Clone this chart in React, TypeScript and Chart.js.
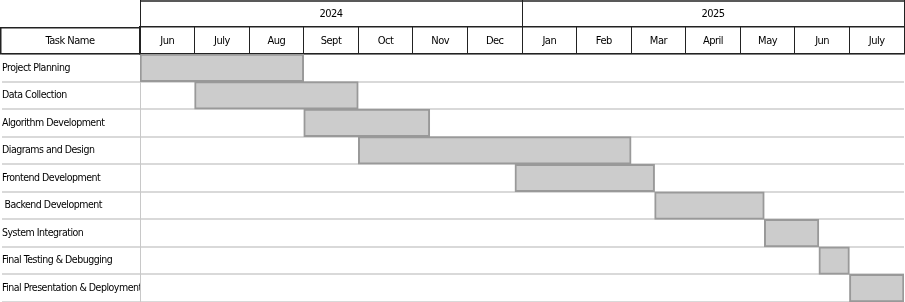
import React, { useEffect, useRef } from 'react';
import { Chart, registerables } from 'chart.js';

Chart.register(...registerables);

const tasks = [
  'Project Planning',
  'Data Collection',
  'Algorithm Development',
  'Diagrams and Design',
  'Frontend Development',
  ' Backend Development',
  'System Integration',
  'Final Testing & Debugging',
  'Final Presentation & Deployment',
];
// months counted from the start of June 2024
const startMonths = [0, 1, 3, 4, 6.87, 9.43, 11.44, 12.44, 13];
const endMonths = [3, 4, 5.31, 9, 9.43, 11.44, 12.44, 13, 14];
const monthLabels = ['Jun', 'July', 'Aug', 'Sept', 'Oct', 'Nov', 'Dec', 'Jan', 'Feb', 'Mar', 'April', 'May', 'Jun', 'July'];
const yearLabels = ['2024', '2025'];
const headerLabel = 'Task Name';

const FONT = "'Liberation Sans Narrow', 'Arial Narrow', 'DejaVu Sans Condensed', sans-serif";
const HEADER_H = 27;
const LABEL_W = 138;

const headerPlugin = {
  id: 'headerCells',
  beforeDraw(chart: any) {
    (chart.ctx as any).letterSpacing = '-0.5px';
  },
  afterDraw(chart: any) {
    const { ctx } = chart;
    const yr = chart.scales.xYear;
    const mo = chart.scales.xMonth;
    const ya = chart.scales.y;
    ctx.save();
    ctx.strokeStyle = '#222';
    ctx.lineWidth = 1.5;
    ctx.beginPath();
    ctx.moveTo(yr.left, yr.top + 1);
    ctx.lineTo(yr.right, yr.top + 1);
    ctx.stroke();
    ctx.strokeRect(0.75, mo.top + 0.75, ya.right - 1, mo.bottom - mo.top - 1);
    ctx.fillStyle = '#000';
    ctx.font = `11px ${FONT}`;
    ctx.textAlign = 'center';
    ctx.textBaseline = 'middle';
    ctx.fillText(headerLabel, ya.right / 2, (mo.top + mo.bottom) / 2 + 0.5);
    ctx.restore();
  },
};

function headerFit(scale: any) {
  scale.height = HEADER_H;
  scale.paddingLeft = 0;
  scale.paddingRight = 0;
}

export default function App() {
  const ref = useRef<HTMLCanvasElement>(null);
  useEffect(() => {
    if (!ref.current) return;
    const chart = new Chart(ref.current, {
      type: 'bar',
      data: {
        labels: tasks,
        datasets: [
          {
            data: tasks.map((_, i) => [startMonths[i], endMonths[i]]),
            backgroundColor: '#cccccc',
            borderColor: '#999999',
            borderWidth: 2,
            borderSkipped: false,
            barPercentage: 1,
            categoryPercentage: 1,
            xAxisID: 'x',
            yAxisID: 'y',
          } as any,
        ],
      },
      options: {
        indexAxis: 'y',
        responsive: false,
        animation: false,
        layout: { padding: { left: 2, right: 1, top: 0, bottom: 0 } },
        plugins: { legend: { display: false }, tooltip: { enabled: false } },
        scales: {
          x: {
            type: 'linear',
            min: 0,
            max: monthLabels.length,
            display: false,
          },
          xMonth: {
            type: 'category',
            labels: monthLabels,
            position: 'top',
            weight: 1,
            offset: true,
            afterFit: headerFit,
            grid: {
              offset: true,
              drawOnChartArea: false,
              drawTicks: true,
              tickLength: HEADER_H,
              tickColor: '#222',
              tickWidth: 1,
            },
            border: { display: true, color: '#222', width: 1.5 },
            ticks: {
              autoSkip: false,
              maxRotation: 0,
              padding: -20.5,
              color: '#000',
              font: { family: FONT, size: 11 },
            },
          },
          xYear: {
            type: 'category',
            labels: yearLabels,
            position: 'top',
            weight: 2,
            offset: true,
            afterFit: headerFit,
            grid: {
              offset: true,
              drawOnChartArea: false,
              drawTicks: true,
              tickLength: HEADER_H,
              tickColor: '#222',
              tickWidth: 1,
            },
            border: { display: true, color: '#222', width: 1.5 },
            ticks: {
              autoSkip: false,
              maxRotation: 0,
              padding: -20.5,
              color: '#000',
              font: { family: FONT, size: 11 },
            },
          },
          y: {
            type: 'category',
            position: 'left',
            offset: true,
            afterFit: (s: any) => {
              s.width = LABEL_W;
              s.paddingTop = 0;
              s.paddingBottom = 0;
            },
            grid: {
              offset: true,
              color: '#d9d9d9',
              lineWidth: 2,
              drawTicks: true,
              tickLength: LABEL_W,
              tickColor: '#d9d9d9',
              tickWidth: 2,
            },
            border: { display: true, color: '#c8c8c8', width: 1 },
            ticks: {
              autoSkip: false,
              crossAlign: 'far',
              padding: 0,
              color: '#000',
              font: { family: FONT, size: 10.5 },
            },
          },
        },
      },
      plugins: [headerPlugin],
    } as any);
    return () => chart.destroy();
  }, []);
  return (
    <div style={{ position: 'absolute', left: 0, top: 0, width: 905, height: 302, background: '#fff' }}>
      <canvas ref={ref} width={905} height={302} />
    </div>
  );
}
